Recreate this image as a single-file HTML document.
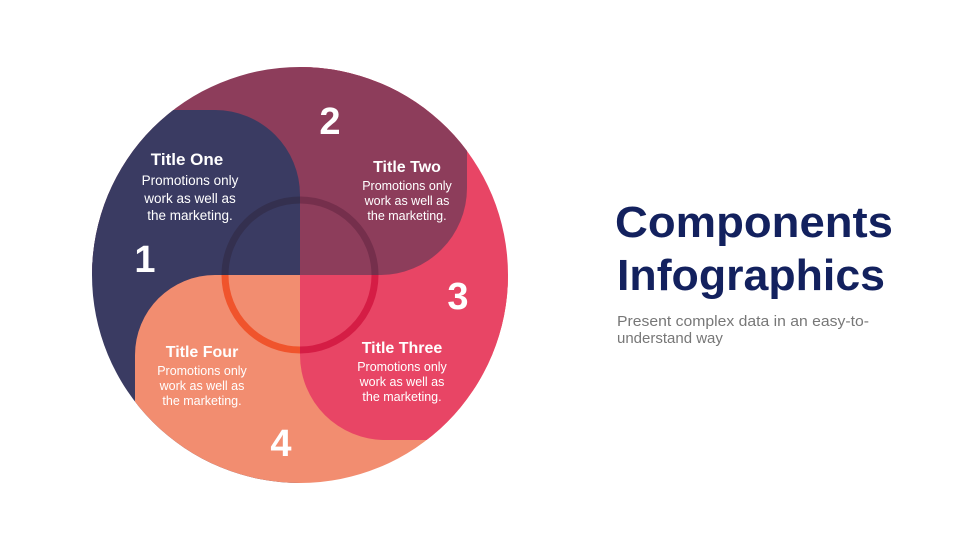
<!DOCTYPE html>
<html><head><meta charset="utf-8"><style>
html,body{margin:0;padding:0;background:#fff;}
svg{display:block;}
</style></head><body>
<svg width="980" height="551" viewBox="0 0 980 551" xmlns="http://www.w3.org/2000/svg" font-family="'Liberation Sans', sans-serif">
<defs>
<clipPath id="c"><circle cx="300" cy="275" r="208"/></clipPath>
</defs>
<g clip-path="url(#c)">
  <!-- strips -->
  <path d="M60 110 H215 A85 85 0 0 1 300 195 V520 H60 Z" fill="#3a3b62"/>
  <path d="M60 40 H467 V188 A87 87 0 0 1 380 275 H60 Z" fill="#8d3d5b"/>
  <path d="M300 40 H540 V440 H385 A85 85 0 0 1 300 355 Z" fill="#e84565"/>
  <path d="M135 355 A80 80 0 0 1 215 275 H540 V520 H135 Z" fill="#f28d70"/>
  <!-- quarters redrawn on top -->
  <path d="M60 110 H215 A85 85 0 0 1 300 195 V275 H60 Z" fill="#3a3b62"/>
  <path d="M300 40 H467 V188 A87 87 0 0 1 380 275 H300 Z" fill="#8d3d5b"/>
  <path d="M300 275 H540 V440 H385 A85 85 0 0 1 300 355 Z" fill="#e84565"/>
</g>
<!-- center ring -->
<g fill="none" stroke-width="7">
  <path d="M225 275 A75 75 0 0 1 300 200" stroke="#34304f"/>
  <path d="M300 200 A75 75 0 0 1 375 275" stroke="#752f4c"/>
  <path d="M375 275 A75 75 0 0 1 300 350" stroke="#d51d45"/>
  <path d="M300 350 A75 75 0 0 1 225 275" stroke="#f0542c"/>
</g>
<g fill="#fff" text-anchor="middle">
  <text x="330" y="134" font-size="38" font-weight="bold">2</text>
  <text x="145" y="272" font-size="38" font-weight="bold">1</text>
  <text x="458" y="309" font-size="38" font-weight="bold">3</text>
  <text x="281" y="456" font-size="38" font-weight="bold">4</text>

  <text x="187" y="165" font-size="17" font-weight="bold">Title One</text>
  <text x="190" y="185" font-size="13.5">Promotions only</text>
  <text x="190" y="203" font-size="13.5">work as well as</text>
  <text x="190" y="220" font-size="13.5">the marketing.</text>

  <text x="407" y="172" font-size="16" font-weight="bold">Title Two</text>
  <text x="407" y="190" font-size="12.5">Promotions only</text>
  <text x="407" y="205" font-size="12.5">work as well as</text>
  <text x="407" y="220" font-size="12.5">the marketing.</text>

  <text x="402" y="353" font-size="16" font-weight="bold">Title Three</text>
  <text x="402" y="371" font-size="12.5">Promotions only</text>
  <text x="402" y="386" font-size="12.5">work as well as</text>
  <text x="402" y="401" font-size="12.5">the marketing.</text>

  <text x="202" y="357" font-size="16" font-weight="bold">Title Four</text>
  <text x="202" y="375" font-size="12.5">Promotions only</text>
  <text x="202" y="390" font-size="12.5">work as well as</text>
  <text x="202" y="405" font-size="12.5">the marketing.</text>
</g>
<text x="615" y="237" font-size="44" font-weight="bold" fill="#13215e" textLength="278" lengthAdjust="spacingAndGlyphs">Components</text>
<text x="617" y="290" font-size="44" font-weight="bold" fill="#13215e" textLength="268" lengthAdjust="spacingAndGlyphs">Infographics</text>
<text x="617" y="326" font-size="15" fill="#777" textLength="252" lengthAdjust="spacingAndGlyphs">Present complex data in an easy-to-</text>
<text x="617" y="343" font-size="15" fill="#777">understand way</text>
</svg>
</body></html>
